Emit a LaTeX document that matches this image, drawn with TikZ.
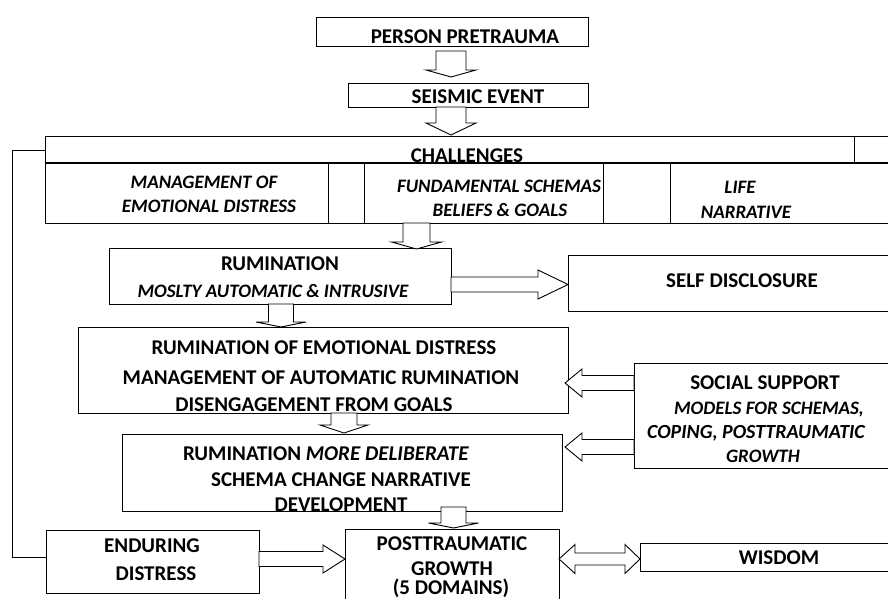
\documentclass[tikz,border=0pt]{standalone}
\usepackage{fontspec}
\setmainfont{Carlito}
\tikzset{
  box/.style={draw, line width=0.9pt, inner sep=0pt, anchor=north west},
  txt/.style={inner sep=0pt, anchor=base, font=\bfseries\fontsize{21}{25}\selectfont},
  itxt/.style={txt, font=\bfseries\itshape\fontsize{19}{23}\selectfont},
  blkarrow/.style={draw, fill=white, line width=0.9pt, line join=miter}
}
\newcommand\blkdown[6]{% cx, top, base, tip, shaft half width, head half width
  \filldraw[blkarrow] ({#1-#5},#2) -- ({#1-#5},#3) -- ({#1-#6},#3) -- (#1,#4) -- ({#1+#6},#3) -- ({#1+#5},#3) -- ({#1+#5},#2) -- cycle;}
\newcommand\blkright[6]{% cy, start, base, tip, sw, hw
  \filldraw[blkarrow] (#2,{#1-#5}) -- (#3,{#1-#5}) -- (#3,{#1-#6}) -- (#4,#1) -- (#3,{#1+#6}) -- (#3,{#1+#5}) -- (#2,{#1+#5}) -- cycle;}
\newcommand\blkdouble[7]{% cy, left tip, left base, right base, right tip, sw, hw
  \filldraw[blkarrow] (#2,#1) -- (#3,{#1-#7}) -- (#3,{#1-#6}) -- (#4,{#1-#6}) -- (#4,{#1-#7}) -- (#5,#1) -- (#4,{#1+#7}) -- (#4,{#1+#6}) -- (#3,{#1+#6}) -- (#3,{#1+#7}) -- cycle;}
\begin{document}
\begin{tikzpicture}[x=1pt,y=-1pt]
\useasboundingbox (0,0) rectangle (888,599);
\clip (0,0) rectangle (888,599);
% boxes
\node[box, minimum width=272pt, minimum height=29pt] (pp) at (316,17) {};
\node[box, minimum width=240pt, minimum height=24pt] (se) at (348,83) {};
\node[box, minimum width=860pt, minimum height=27pt] (ch) at (45,136) {};
\draw[line width=0.9pt] (854,136) -- (854,163);
\draw[line width=2pt] (45,163) -- (900,163);
\node[box, minimum width=283pt, minimum height=60pt] (c1) at (45,163) {};
\node[box, minimum width=36pt, minimum height=60pt] (c2) at (328,163) {};
\node[box, minimum width=239pt, minimum height=60pt] (c3) at (364,163) {};
\node[box, minimum width=67pt, minimum height=60pt] (c4) at (603,163) {};
\node[box, minimum width=240pt, minimum height=60pt] (c5) at (670,163) {};
\node[box, minimum width=342pt, minimum height=56pt] (rum) at (109,248) {};
\node[box, minimum width=340pt, minimum height=56pt] (sd) at (568,255) {};
\node[box, minimum width=490pt, minimum height=86pt] (big) at (78,327) {};
\node[box, minimum width=270pt, minimum height=105pt] (ss) at (634,363) {};
\node[box, minimum width=440pt, minimum height=77pt] (b4) at (122,434) {};
\node[box, minimum width=213pt, minimum height=63pt] (ed) at (46,530) {};
\node[box, minimum width=214pt, minimum height=80pt] (ptg) at (345,529) {};
\node[box, minimum width=270pt, minimum height=28pt] (wis) at (640,543) {};
% feedback line
\coordinate (fbtop) at (45,150);
\coordinate (fbbot) at (46,557);
\draw[line width=0.9pt] (fbtop) -- (12,150) -- (12,557) -- (fbbot);
% block arrows
\blkdown{451}{51}{70}{77}{15}{25}
\blkdown{451}{107}{123}{135}{15}{25}
\blkdown{416.5}{223}{242}{249}{13.5}{25}
\blkdown{281}{304}{322}{327}{12.5}{25}
\blkdown{344}{413}{425}{433}{13}{24}
\blkdown{453.5}{507}{523}{528}{12.5}{25}
\blkright{284.5}{451}{538}{568}{7.5}{14.5}
\blkright{383}{634}{582}{565}{7.5}{14}
\blkright{447}{634}{582}{565}{7.5}{14}
\blkright{559}{259}{323}{345}{7.5}{14}
\blkdouble{559}{559}{575}{625}{640}{6}{14.5}
% texts
\node[txt] (tpp) at (465,43.3) {PERSON PRETRAUMA};
\node[txt] (tse) at (478,103) {SEISMIC EVENT};
\node[txt] (tch) at (467,162) {CHALLENGES};
\node[itxt] (tc1a) at (204,188) {MANAGEMENT OF};
\node[itxt] (tc1b) at (209,212) {EMOTIONAL DISTRESS};
\node[itxt] (tc3a) at (499,192) {FUNDAMENTAL SCHEMAS};
\node[itxt] (tc3b) at (500,216) {BELIEFS \& GOALS};
\node[itxt] (tc5a) at (740,193) {LIFE};
\node[itxt] (tc5b) at (746,218) {NARRATIVE};
\node[txt] (trum1) at (280,270) {RUMINATION};
\node[itxt] (trum2) at (273,297) {MOSLTY AUTOMATIC \& INTRUSIVE};
\node[txt] (tsd) at (742,287) {SELF DISCLOSURE};
\node[txt] (tbig1) at (324,354) {RUMINATION OF EMOTIONAL DISTRESS};
\node[txt] (tbig2) at (321,384) {MANAGEMENT OF AUTOMATIC RUMINATION};
\node[txt] (tbig3) at (314,411) {DISENGAGEMENT FROM GOALS};
\node[txt] (tss1) at (765,389) {SOCIAL SUPPORT};
\node[itxt] (tss2) at (769,414) {MODELS FOR SCHEMAS,};
\node[itxt, font=\bfseries\itshape\fontsize{20}{24}\selectfont] (tss3) at (756,438) {COPING, POSTTRAUMATIC};
\node[itxt] (tss4) at (763,462) {GROWTH};
\node[txt] (tb41) at (326,460) {RUMINATION \textit{MORE DELIBERATE}};
\node[txt] (tb42) at (341,486) {SCHEMA CHANGE NARRATIVE};
\node[txt] (tb43) at (341,511) {DEVELOPMENT};
\node[txt] (ted1) at (152,552) {ENDURING};
\node[txt] (ted2) at (156,580) {DISTRESS};
\node[txt] (tptg1) at (452,550) {POSTTRAUMATIC};
\node[txt] (tptg2) at (452,575) {GROWTH};
\node[txt] (tptg3) at (451,594) {(5 DOMAINS)};
\node[txt] (twis) at (779,564) {WISDOM};
\end{tikzpicture}
\end{document}
